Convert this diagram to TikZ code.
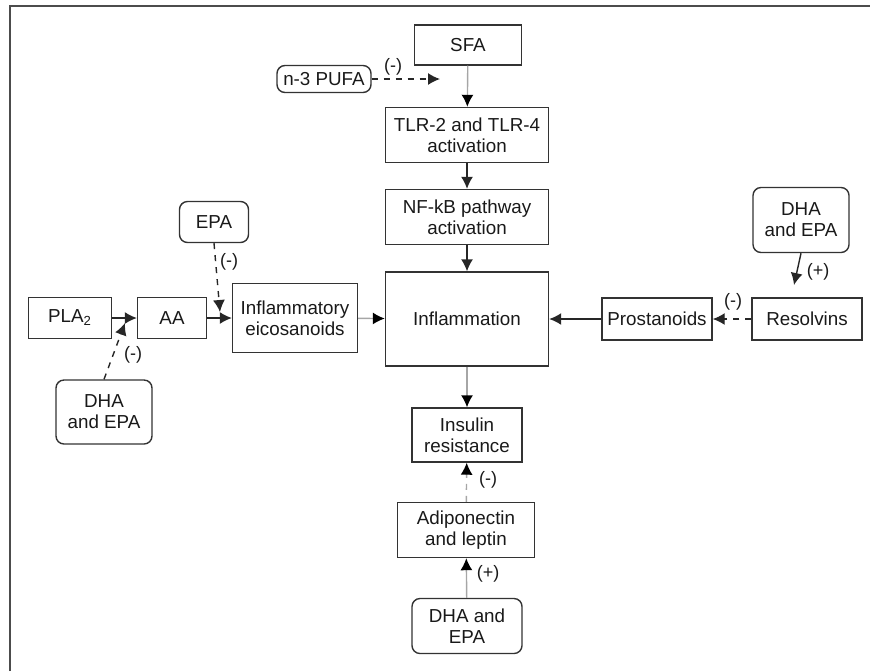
\documentclass[tikz,border=0pt]{standalone}
\usepackage{fontspec}
\setmainfont{Liberation Sans}
\usetikzlibrary{arrows.meta}
\begin{document}
\begin{tikzpicture}[x=0.5pt,y=-0.5pt,
>={Latex[length=6pt,width=6pt]},
rbox/.style={rounded corners=4pt},
sign/.style={draw=none,font=\fontsize{9}{10}\selectfont},
solid arr/.style={draw=black!85,line width=0.7pt,->},
grey arr/.style={draw=gray!70,line width=0.7pt,-{Latex[length=6pt,width=6pt,black]}},
dash arr/.style={draw=black!85,line width=0.7pt,dashed,->},
grey dash arr/.style={draw=gray!70,line width=0.7pt,dashed,-{Latex[length=6pt,width=6pt,black]}}]
\tikzstyle{every node}=[rectangle,draw=black!80,line width=0.7pt,align=center,inner sep=0pt,
font=\fontsize{9.4}{10.5}\selectfont,text=black!90]
\useasboundingbox (0,0) rectangle (870,671);
\draw[gray!60!black,line width=1.1pt] (10,671) -- (10,6) -- (870,6);

\node[minimum width=53.5pt,minimum height=20pt] (sfa) at (468,45) {SFA};
\node[rbox,minimum width=47pt,minimum height=13.5pt] (pufa) at (324,79) {n-3 PUFA};
\node[minimum width=81.5pt,minimum height=27.5pt] (tlr) at (467,135) {TLR-2 and TLR-4\\activation};
\node[minimum width=81.5pt,minimum height=27.5pt] (nfkb) at (467,217) {NF-kB pathway\\activation};
\node[minimum width=81.5pt,minimum height=47pt] (infl) at (467,319) {Inflammation};
\node[minimum width=55pt,minimum height=27pt] (ins) at (467,435) {Insulin\\resistance};
\node[minimum width=68.5pt,minimum height=27.5pt] (adipo) at (466,530) {Adiponectin\\and leptin};
\node[rbox,minimum width=55pt,minimum height=27.5pt] (dhab) at (467,626) {DHA and\\EPA};

\node[minimum width=41.5pt,minimum height=20.5pt] (pla) at (70,318) {PLA\textsubscript{2}};
\node[minimum width=34.5pt,minimum height=20.5pt] (aa) at (172,318) {AA};
\node[minimum width=62.5pt,minimum height=34.5pt] (eic) at (295,318) {Inflammatory\\eicosanoids};
\node[rbox,minimum width=34.5pt,minimum height=20.5pt] (epa) at (214,222) {EPA};
\node[rbox,minimum width=48pt,minimum height=32pt] (dhal) at (104,412) {DHA\\and EPA};

\node[minimum width=55pt,minimum height=21pt] (pros) at (657,319) {Prostanoids};
\node[minimum width=55pt,minimum height=21pt] (res) at (807,319) {Resolvins};
\node[rbox,minimum width=48pt,minimum height=32.5pt] (dhar) at (801,220) {DHA\\and EPA};

\coordinate (pufaend) at (440,79);
\coordinate (dhalend) at (125,323);
\coordinate (epaend) at (220,312);
\coordinate (dharend) at (794,285);

\draw[grey arr] (sfa) -- (tlr);
\draw[dash arr] (pufa) -- (pufaend);
\node[sign] at (393,67) {(-)};
\draw[solid arr] (tlr) -- (nfkb);
\draw[solid arr] (nfkb) -- (infl);
\draw[grey arr] (infl) -- (ins);
\draw[grey dash arr] (adipo) -- (ins);
\node[sign] at (488,480) {(-)};
\draw[grey arr] (dhab) -- (adipo);
\node[sign] at (488,574) {(+)};

\draw[solid arr] (pla) -- (aa);
\draw[dash arr] (dhal.north) -- (dhalend);
\node[sign] at (133,355) {(-)};
\draw[solid arr] (aa) -- (eic);
\draw[dash arr] (epa.south) -- (epaend);
\node[sign] at (229,262) {(-)};
\draw[grey arr] (eic) -- (infl);

\draw[solid arr] (dhar.south) -- (dharend);
\node[sign] at (818,272) {(+)};
\draw[dash arr] (res) -- (pros);
\node[sign] at (733,302) {(-)};
\draw[solid arr] (pros) -- (infl);
\end{tikzpicture}
\end{document}
